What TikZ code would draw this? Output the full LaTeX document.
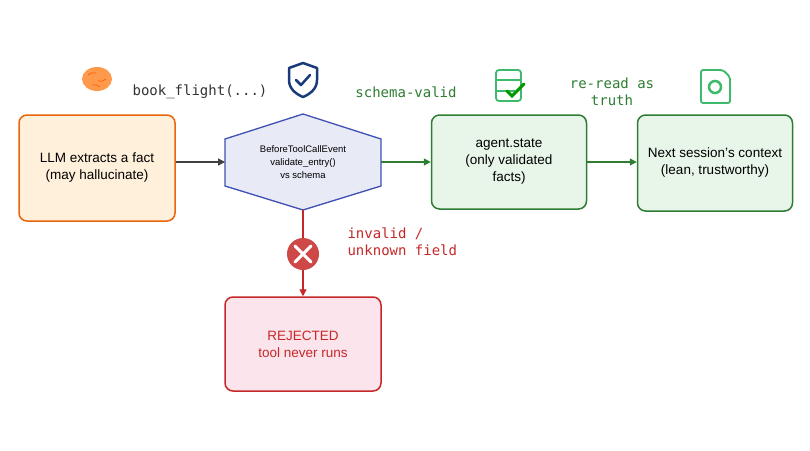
\documentclass[tikz,border=0pt]{standalone}
\usepackage{fontspec}
\setmainfont{Liberation Sans}
\setmonofont{DejaVu Sans Mono}
\usetikzlibrary{arrows.meta,shapes.geometric}
\definecolor{org}{HTML}{E8650A}\definecolor{orgf}{HTML}{FFF0DC}
\definecolor{blu}{HTML}{3F51B5}\definecolor{bluf}{HTML}{E8EAF6}
\definecolor{grn}{HTML}{2E7D32}\definecolor{grnf}{HTML}{E8F5E9}
\definecolor{red1}{HTML}{C62828}\definecolor{redf}{HTML}{FCE4EC}
\definecolor{icg}{HTML}{3DBB6B}\definecolor{navy}{HTML}{1A3A7A}
\begin{document}
\begin{tikzpicture}[x=1pt,y=-1pt,
 box/.style={draw,rounded corners=8pt,line width=1.5pt,align=center,font=\fontsize{13.5}{17}\selectfont},
 lab/.style={font=\ttfamily\fontsize{14}{17}\selectfont,align=center},
 arr/.style={line width=1.4pt,-{Triangle[length=7pt,width=7pt]}}]
\useasboundingbox (0,0) rectangle (810,450);
\fill[white] (0,0) rectangle (810,450);
\node[box,draw=org,fill=orgf,minimum width=156pt,minimum height=106pt] (llm) at (97,168) {LLM extracts a fact\\(may hallucinate)};
\node[box,draw=grn,fill=grnf,minimum width=155pt,minimum height=94pt] (st) at (509,162) {agent.state\\(only validated\\facts)};
\node[box,draw=grn,fill=grnf,minimum width=155pt,minimum height=96pt] (nx) at (715,163) {Next session's context\\(lean, trustworthy)};
\node[box,draw=red1,fill=redf,text=red1,minimum width=156pt,minimum height=94pt] (rj) at (303,344) {REJECTED\\tool never runs};
\draw[blu,fill=bluf,line width=1.3pt] (225,139)--(303,114)--(381,139)--(381,186)--(303,210)--(225,186)--cycle;
\node[align=center,font=\fontsize{9.5}{13}\selectfont,inner sep=0] (hx) at (303,162) {BeforeToolCallEvent\\validate\_entry()\\vs schema};
\coordinate (hl) at (225,162); \coordinate (hr) at (381,162); \coordinate (hb) at (303,210);
\node[circle,fill=red1!85,minimum size=32pt,inner sep=0] (err) at (303,254) {};
\draw[white,line width=3pt,line cap=round] (295,246)--(311,262) (311,246)--(295,262);
\draw[arr,black!75] (llm.east|-hl) -- (hl);
\draw[arr,grn] (hr) -- (st.west|-hr);
\draw[arr,grn] (st.east|-hr) -- (nx.west|-hr);
\draw[red1,line width=1.4pt] (hb) -- (err.north);
\draw[arr,red1] (err.south) -- (rj.north);
\node[lab,text=black!80] (bf) at (200,92) {book\_flight(...)};
\node[lab,text=grn] (sv) at (406,92) {schema-valid};
\node[lab,text=grn] (rr) at (612,92) {re-read as\\truth};
\node[lab,text=red1,align=left,anchor=west] (iv) at (344,242) {invalid /\\unknown field};
% brain
\node[ellipse,fill=orange!60!pink,minimum width=30pt,minimum height=24pt,inner sep=0] (br) at (97,79) {};
\draw[orange!70!red,line width=0.7pt] (88,75) to[bend left] (96,73) (98,81) to[bend right] (106,79) (92,85) to[bend left] (100,87);
% shield
\draw[navy,line width=2.5pt,line join=round] (303,63) -- (317,68) -- (317,80) .. controls (317,89) and (310,94) .. (303,97) .. controls (296,94) and (289,89) .. (289,80) -- (289,68) -- cycle;
\draw[navy,line width=2.5pt,line cap=round,line join=round] (296,80)--(301,85)--(310,75);
% database
\draw[icg,line width=1.8pt,rounded corners=3pt] (496,70) rectangle (521,101);
\draw[icg,line width=1.8pt] (496,80)--(521,80) (496,91)--(515,91);
\draw[green!60!black,line width=3pt,line cap=round] (507,91)--(512,96)--(524,84);
% document
\draw[icg,line width=1.8pt,rounded corners=2pt] (701,70) -- (723,70) -- (730,77) -- (730,103) -- (701,103) -- cycle;
\draw[icg,line width=2.5pt] (715,87) circle (6pt);
\end{tikzpicture}
\end{document}
